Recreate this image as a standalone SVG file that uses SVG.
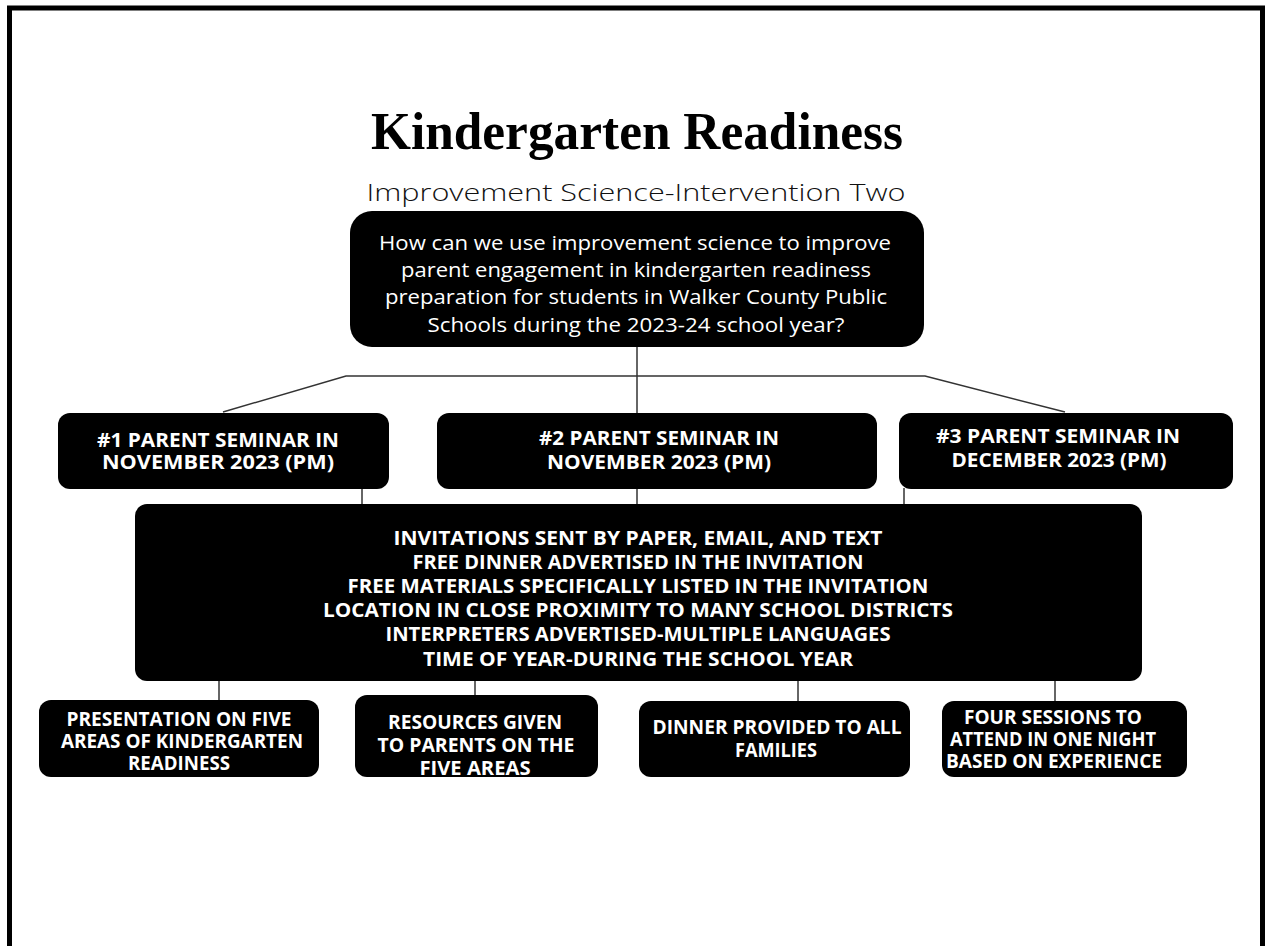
<svg xmlns="http://www.w3.org/2000/svg" width="1265" height="946" viewBox="0 0 1265 946">
<style>
.box{fill:#000;}
.t{font-family:"Open Sans","Liberation Sans",sans-serif;fill:#fff;text-anchor:middle;}
.q{font-size:20px;font-weight:400;}
.u{font-size:19px;font-weight:700;}
.c{stroke:#333;stroke-width:1.5;fill:none;}
</style>
<rect x="0" y="0" width="1265" height="946" fill="#fff"/>
<rect x="9.5" y="8" width="1253" height="1000" fill="none" stroke="#000" stroke-width="5"/>
<g id="title">
<text x="637" y="149" font-family="Liberation Serif, serif" font-weight="700" font-size="52" text-anchor="middle" textLength="532" lengthAdjust="spacingAndGlyphs">Kindergarten Readiness</text>
<text x="636" y="201" font-family="Open Sans, Liberation Sans, sans-serif" font-weight="300" font-size="24" text-anchor="middle" textLength="539" lengthAdjust="spacingAndGlyphs" fill="#111">Improvement Science-Intervention Two</text>
</g>
<g id="connectors">
<path class="c" d="M637 347 V413"/>
<path class="c" d="M223 412 L346 376 H925 L1065 412"/>
<path class="c" d="M362 488 V504"/>
<path class="c" d="M637 488 V504"/>
<path class="c" d="M904 488 V504"/>
<path class="c" d="M219 680 V700"/>
<path class="c" d="M475 680 V695"/>
<path class="c" d="M798 680 V701"/>
<path class="c" d="M1055 680 V701"/>
</g>
<g id="root">
<rect class="box" x="350" y="211" width="574" height="136" rx="22"/>
<text class="t q" x="635" y="250" textLength="512" lengthAdjust="spacingAndGlyphs">How can we use improvement science to improve</text>
<text class="t q" x="636" y="277" textLength="470" lengthAdjust="spacingAndGlyphs">parent engagement in kindergarten readiness</text>
<text class="t q" x="636" y="304" textLength="502" lengthAdjust="spacingAndGlyphs">preparation for students in Walker County Public</text>
<text class="t q" x="636" y="332" textLength="417" lengthAdjust="spacingAndGlyphs">Schools during the 2023-24 school year?</text>
</g>
<g id="seminar1">
<rect class="box" x="58" y="413" width="331" height="76" rx="12"/>
<text class="t u" x="218" y="447" textLength="242" lengthAdjust="spacingAndGlyphs">#1 PARENT SEMINAR IN</text>
<text class="t u" x="218" y="469" textLength="232" lengthAdjust="spacingAndGlyphs">NOVEMBER 2023 (PM)</text>
</g>
<g id="seminar2">
<rect class="box" x="437" y="413" width="440" height="76" rx="12"/>
<text class="t u" x="659" y="445" textLength="240" lengthAdjust="spacingAndGlyphs">#2 PARENT SEMINAR IN</text>
<text class="t u" x="659" y="469" textLength="224" lengthAdjust="spacingAndGlyphs">NOVEMBER 2023 (PM)</text>
</g>
<g id="seminar3">
<rect class="box" x="899" y="413" width="334" height="76" rx="12"/>
<text class="t u" x="1058" y="443" textLength="244" lengthAdjust="spacingAndGlyphs">#3 PARENT SEMINAR IN</text>
<text class="t u" x="1059" y="467" textLength="215" lengthAdjust="spacingAndGlyphs">DECEMBER 2023 (PM)</text>
</g>
<g id="strategies">
<rect class="box" x="135" y="504" width="1007" height="177" rx="12"/>
<text class="t u" x="638" y="545" textLength="489" lengthAdjust="spacingAndGlyphs">INVITATIONS SENT BY PAPER, EMAIL, AND TEXT</text>
<text class="t u" x="638" y="569" textLength="451" lengthAdjust="spacingAndGlyphs">FREE DINNER ADVERTISED IN THE INVITATION</text>
<text class="t u" x="638" y="593" textLength="581" lengthAdjust="spacingAndGlyphs">FREE MATERIALS SPECIFICALLY LISTED IN THE INVITATION</text>
<text class="t u" x="638" y="617" textLength="630" lengthAdjust="spacingAndGlyphs">LOCATION IN CLOSE PROXIMITY TO MANY SCHOOL DISTRICTS</text>
<text class="t u" x="638" y="641" textLength="505" lengthAdjust="spacingAndGlyphs">INTERPRETERS ADVERTISED-MULTIPLE LANGUAGES</text>
<text class="t u" x="638" y="666" textLength="430" lengthAdjust="spacingAndGlyphs">TIME OF YEAR-DURING THE SCHOOL YEAR</text>
</g>
<g id="presentation">
<rect class="box" x="39" y="700" width="280" height="77" rx="12"/>
<text class="t u" x="179" y="726" textLength="225" lengthAdjust="spacingAndGlyphs">PRESENTATION ON FIVE</text>
<text class="t u" x="182" y="748" textLength="242" lengthAdjust="spacingAndGlyphs">AREAS OF KINDERGARTEN</text>
<text class="t u" x="179" y="770" textLength="102" lengthAdjust="spacingAndGlyphs">READINESS</text>
</g>
<g id="resources">
<rect class="box" x="355" y="695" width="243" height="82" rx="12"/>
<text class="t u" x="475" y="729" textLength="174" lengthAdjust="spacingAndGlyphs">RESOURCES GIVEN</text>
<text class="t u" x="476" y="752" textLength="197" lengthAdjust="spacingAndGlyphs">TO PARENTS ON THE</text>
<text class="t u" x="475" y="775" textLength="111" lengthAdjust="spacingAndGlyphs">FIVE AREAS</text>
</g>
<g id="dinner">
<rect class="box" x="639" y="701" width="271" height="76" rx="12"/>
<text class="t u" x="777" y="734" textLength="249" lengthAdjust="spacingAndGlyphs">DINNER PROVIDED TO ALL</text>
<text class="t u" x="776" y="757" textLength="82" lengthAdjust="spacingAndGlyphs">FAMILIES</text>
</g>
<g id="sessions">
<rect class="box" x="942" y="701" width="245" height="76" rx="12"/>
<text class="t u" x="1053" y="724" textLength="178" lengthAdjust="spacingAndGlyphs">FOUR SESSIONS TO</text>
<text class="t u" x="1053" y="746" textLength="206" lengthAdjust="spacingAndGlyphs">ATTEND IN ONE NIGHT</text>
<text class="t u" x="1054" y="768" textLength="216" lengthAdjust="spacingAndGlyphs">BASED ON EXPERIENCE</text>
</g>
</svg>
